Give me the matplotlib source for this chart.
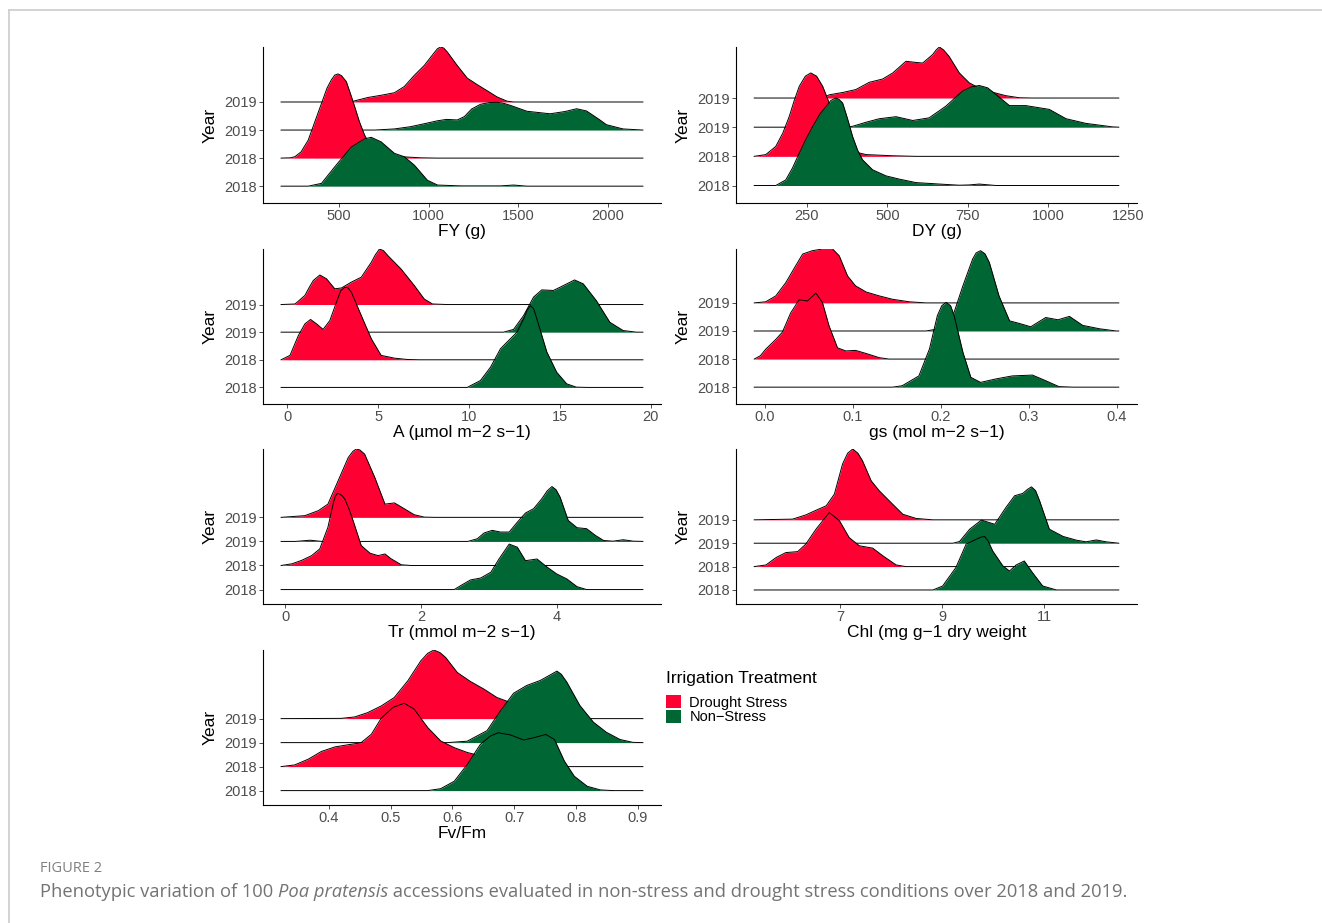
import matplotlib
matplotlib.use("Agg")
import matplotlib.pyplot as plt
from matplotlib.patches import Patch
from matplotlib.lines import Line2D

plt.rcParams['font.family'] = ['Liberation Sans', 'DejaVu Sans']

RED = '#FF0033'
GREEN = '#006633'

# rows from bottom: 1 = non-stress 2018, 2 = drought 2018, 3 = non-stress 2019, 4 = drought 2019
row_labels = ['2018', '2018', '2019', '2019']
treatments = ['Drought Stress', 'Non\u2212Stress']

# ridge heights (in row units), as (x, height) pairs
fy_ds19 = [(515, 0), (570, .01), (662, .16), (736, .24), (810, .33), (865, .55), (921, .95), (976, 1.3),
           (1031, 1.75), (1050, 1.9), (1068, 1.96), (1085, 1.92), (1105, 1.78), (1160, 1.3), (1216, .85),
           (1271, .62), (1327, .40), (1382, .18), (1437, .03), (1474, 0)]
fy_ns19 = [(700, 0), (810, .04), (900, .12), (994, .25), (1050, .33), (1100, .38), (1160, .36), (1200, .48),
           (1240, .75), (1290, .92), (1340, .98), (1382, .99), (1420, .95), (1456, .88), (1548, .67),
           (1677, .58), (1760, .66), (1825, .76), (1880, .68), (1950, .38), (1991, .19), (2083, .04), (2194, 0)]
fy_ds18 = [(179, 0), (230, .01), (256, .05), (290, .22), (330, .64), (370, 1.35), (404, 1.95), (435, 2.5),
           (459, 2.79), (478, 2.96), (496, 3.0), (515, 2.94), (542, 2.73), (565, 2.3), (589, 1.83),
           (615, 1.3), (644, .82), (670, .5), (699, .29), (755, .11), (847, .05), (958, .01), (1050, 0)]
fy_ns18 = [(330, 0), (404, .1), (478, .69), (570, 1.4), (644, 1.69), (681, 1.74), (736, 1.58), (810, 1.17),
           (865, 1.05), (921, .75), (994, .21), (1050, .04), (1179, .01), (1400, .01), (1474, .04), (1548, 0)]

dy_ds19 = [(300, 0), (319, .11), (361, .19), (402, .29), (444, .54), (485, .65), (517, .86), (558, 1.26),
           (590, 1.22), (610, 1.2), (641, 1.49), (652, 1.65), (662, 1.75), (675, 1.65), (692, 1.43),
           (724, .86), (755, .52), (786, .34), (827, .2), (869, .08), (910, .01), (950, 0)]
dy_ns19 = [(350, 0), (392, .03), (434, .17), (475, .29), (527, .36), (579, .23), (630, .32), (682, .72),
           (734, 1.24), (760, 1.38), (786, 1.43), (812, 1.35), (838, 1.12), (880, .74), (931, .74),
           (1004, .61), (1056, .29), (1118, .13), (1201, .01), (1220, 0)]
dy_ds18 = [(86, 0), (122, .06), (153, .34), (175, .8), (195, 1.37), (210, 1.9), (226, 2.4), (245, 2.75),
           (262, 2.86), (280, 2.75), (299, 2.4), (315, 1.95), (330, 1.49), (345, 1.0), (361, .57),
           (392, .17), (434, .06), (517, .02), (589, 0)]
dy_ns18 = [(153, 0), (184, .19), (205, .6), (226, 1.11), (247, 1.6), (268, 2.03), (290, 2.45), (309, 2.71),
           (325, 2.92), (340, 3.0), (350, 2.95), (361, 2.83), (376, 2.3), (392, 1.68), (408, 1.2),
           (423, .88), (454, .54), (496, .33), (537, .22), (589, .1), (662, .05), (724, .01), (755, .02),
           (786, .05), (838, 0)]

a_ds19 = [(-0.33, 0), (0.44, .02), (0.98, .33), (1.2, .6), (1.44, .87), (1.8, 1.07), (2.17, .93), (2.62, .57),
          (2.99, .6), (3.53, .81), (4.08, .99), (4.63, 1.53), (4.85, 1.8), (5.08, 2.01), (5.3, 1.95),
          (5.54, 1.77), (6.26, 1.29), (6.99, .69), (7.54, .2), (7.99, .02), (8.8, 0)]
a_ns19 = [(11.9, 0), (12.45, .1), (13.0, .6), (13.55, 1.27), (14.0, 1.53), (14.64, 1.51), (15.2, 1.69),
          (15.8, 1.89), (16.28, 1.75), (17.0, 1.14), (17.74, .36), (18.47, .06), (19.2, 0)]
a_ds18 = [(-0.33, 0), (0.16, .16), (0.62, .88), (0.98, 1.3), (1.29, 1.46), (1.62, 1.3), (1.98, 1.1),
          (2.35, 1.42), (2.71, 2.08), (2.95, 2.5), (3.17, 2.63), (3.35, 2.6), (3.53, 2.45), (4.08, 1.6),
          (4.63, .76), (5.17, .16), (5.9, .06), (6.63, .01), (7.3, 0)]
a_ns18 = [(9.9, 0), (10.63, .25), (11.18, .73), (11.73, 1.4), (12.18, 1.7), (12.64, 2.0), (13.0, 2.48),
          (13.2, 2.8), (13.37, 2.96), (13.55, 2.85), (13.73, 2.48), (14.28, 1.28), (14.82, .55),
          (15.37, .13), (15.9, .01), (16.5, 0)]

gs_ds19 = [(-0.012, 0), (0.001, .04), (0.0125, .25), (0.024, .73), (0.035, 1.32), (0.043, 1.74),
           (0.054, 1.86), (0.0655, 1.92), (0.077, 1.92), (0.0845, 1.68), (0.094, .96), (0.103, .61),
           (0.115, .39), (0.13, .25), (0.145, .13), (0.164, .04), (0.183, 0)]
gs_ns19 = [(0.183, 0), (0.198, .08), (0.213, .48), (0.225, 1.61), (0.236, 2.56), (0.24, 2.78),
           (0.245, 2.86), (0.25, 2.75), (0.255, 2.44), (0.266, 1.25), (0.278, .36), (0.289, .27),
           (0.302, .15), (0.319, .48), (0.333, .4), (0.346, .52), (0.361, .2), (0.38, .08), (0.399, 0)]
gs_ds18 = [(-0.012, 0), (-0.005, .12), (0.001, .35), (0.0125, .7), (0.02, .96), (0.0295, 1.65),
           (0.039, 2.11), (0.0485, 2.07), (0.058, 2.35), (0.0655, 2.01), (0.073, 1.18), (0.0826, .4),
           (0.092, .29), (0.103, .31), (0.115, .2), (0.13, .05), (0.141, 0)]
gs_ns18 = [(0.145, 0), (0.156, .05), (0.175, .4), (0.187, 1.36), (0.196, 2.55), (0.201, 2.9), (0.206, 3.02),
           (0.211, 2.9), (0.215, 2.55), (0.225, 1.24), (0.234, .35), (0.245, .17), (0.262, .29),
           (0.281, .4), (0.304, .43), (0.319, .23), (0.334, .02), (0.35, 0)]

tr_ds19 = [(-0.06, 0), (0.29, .07), (0.49, .28), (0.63, .55), (0.78, 1.52), (0.93, 2.49), (1.0, 2.75),
           (1.05, 2.84), (1.1, 2.8), (1.17, 2.63), (1.32, 1.66), (1.47, .55), (1.61, .6), (1.76, .35),
           (1.9, .11), (2.05, .01), (2.2, 0)]
tr_ns19 = [(0.15, 0), (0.37, .05), (0.54, 0), (2.69, 0), (2.83, .11), (2.93, .35), (3.05, .46), (3.17, .39),
           (3.3, .39), (3.42, .8), (3.54, 1.18), (3.66, 1.36), (3.78, 1.77), (3.86, 2.1), (3.93, 2.28),
           (3.99, 2.15), (4.05, 1.84), (4.17, .87), (4.3, .57), (4.44, .53), (4.57, .25), (4.69, .04),
           (4.83, .01), (4.98, .07), (5.13, .01), (5.27, 0)]
tr_ds18 = [(-0.06, 0), (0.1, .07), (0.24, .21), (0.39, .41), (0.51, .69), (0.63, 1.59), (0.67, 2.1),
           (0.71, 2.6), (0.74, 2.88), (0.77, 3.0), (0.8, 2.97), (0.84, 2.9), (0.88, 2.75), (0.94, 2.35),
           (1.0, 1.87), (1.12, .83), (1.25, .51), (1.37, .41), (1.47, .48), (1.56, .28), (1.71, .03), (1.85, 0)]
tr_ns18 = [(2.49, 0), (2.59, .17), (2.73, .4), (2.88, .48), (3.03, .72), (3.15, 1.27), (3.3, 1.89),
           (3.42, 1.76), (3.54, 1.2), (3.71, 1.27), (3.86, .93), (4.0, .65), (4.15, .44), (4.3, .12), (4.44, 0)]

chl_ds19 = [(5.32, 0), (6.07, .03), (6.33, .21), (6.53, .41), (6.73, .6), (6.89, 1.1), (7.05, 2.39),
            (7.15, 2.85), (7.25, 3.03), (7.35, 2.85), (7.44, 2.53), (7.61, 1.67), (7.77, 1.24), (8.03, .67),
            (8.23, .24), (8.49, .06), (8.82, 0)]
chl_ns19 = [(9.21, 0), (9.34, .07), (9.54, .6), (9.77, .99), (10.03, .81), (10.25, 1.53), (10.42, 2.03),
            (10.58, 2.13), (10.67, 2.3), (10.75, 2.41), (10.83, 2.25), (10.91, 1.81), (11.1, .6),
            (11.37, .29), (11.63, .13), (11.82, .06), (12.02, .14), (12.21, .06), (12.46, 0)]
chl_ds18 = [(5.32, 0), (5.55, .07), (5.75, .39), (5.94, .6), (6.17, .64), (6.33, .96), (6.53, 1.6),
            (6.79, 2.31), (6.99, 1.96), (7.18, 1.24), (7.38, .89), (7.64, .79), (7.84, .46), (8.1, .07),
            (8.29, 0)]
chl_ns18 = [(8.82, 0), (9.01, .17), (9.27, .96), (9.47, 1.96), (9.67, 2.17), (9.75, 2.25), (9.83, 2.29),
            (9.9, 2.1), (9.99, 1.67), (10.19, 1.03), (10.32, .81), (10.45, 1.07), (10.61, 1.24),
            (10.77, .74), (10.97, .17), (11.24, 0)]

fv_ds19 = [(0.323, 0), (0.42, .01), (0.442, .07), (0.463, .25), (0.485, .53), (0.506, .88), (0.528, 1.58),
           (0.549, 2.41), (0.56, 2.72), (0.57, 2.86), (0.58, 2.75), (0.589, 2.55), (0.608, 1.92),
           (0.629, 1.55), (0.651, 1.23), (0.672, .88), (0.694, .67), (0.715, .39), (0.736, .18),
           (0.758, .07), (0.785, 0)]
fv_ns19 = [(0.592, 0), (0.624, .06), (0.656, .5), (0.678, 1.34), (0.699, 2.06), (0.72, 2.38), (0.742, 2.59),
           (0.76, 2.85), (0.769, 2.98), (0.776, 2.85), (0.785, 2.52), (0.806, 1.55), (0.828, .85),
           (0.849, .43), (0.871, .13), (0.892, .01), (0.908, 0)]
fv_ds18 = [(0.323, 0), (0.345, .07), (0.367, .31), (0.388, .63), (0.41, .82), (0.431, .91), (0.452, .99),
           (0.469, 1.35), (0.485, 2.02), (0.504, 2.47), (0.522, 2.64), (0.538, 2.4), (0.56, 1.63),
           (0.581, 1.07), (0.603, .79), (0.624, .59), (0.645, .45), (0.667, .24), (0.694, .1), (0.72, 0)]
fv_ns18 = [(0.56, 0), (0.581, .08), (0.603, .39), (0.624, 1.09), (0.645, 1.92), (0.661, 2.27), (0.674, 2.41),
           (0.694, 2.32), (0.715, 2.11), (0.731, 2.2), (0.751, 2.34), (0.765, 2.13), (0.781, 1.23),
           (0.797, .6), (0.818, .18), (0.839, .03), (0.86, 0)]

# data range of each trait (ridges run over it)
fy_range = (179, 2194)
dy_range = (86, 1220)
a_range = (-0.33, 19.56)
gs_range = (-0.012, 0.402)
tr_range = (-0.06, 5.27)
chl_range = (5.32, 12.46)
fv_range = (0.323, 0.908)

fy_ticks = [500, 1000, 1500, 2000]
dy_ticks = [250, 500, 750, 1000, 1250]
a_ticks = [0, 5, 10, 15, 20]
gs_ticks = [0.0, 0.1, 0.2, 0.3, 0.4]
tr_ticks = [0, 2, 4]
chl_ticks = [7, 9, 11]
fv_ticks = [0.4, 0.5, 0.6, 0.7, 0.8, 0.9]

W, H = 1322, 923
fig = plt.figure(figsize=(W / 100, H / 100), dpi=100)


def add_ax(l, t, r, b):
    return fig.add_axes([l / W, 1 - b / H, (r - l) / W, (b - t) / H])


def ridges(ax, curves, rng, ticks, tick_fmt, xlabel):
    lo, hi = rng
    top = 0
    z = 2
    # top row first so lower rows overlap it
    for k, pts, col in zip([4, 3, 2, 1], curves, [RED, GREEN, RED, GREEN]):
        xs = [p[0] for p in pts]
        hs = [p[1] for p in pts]
        if xs[0] > lo:
            xs = [lo] + xs
            hs = [0] + hs
        if xs[-1] < hi:
            xs = xs + [hi]
            hs = hs + [0]
        ys = [k + h for h in hs]
        ax.fill_between(xs, k, ys, color=col, lw=0, zorder=z)
        ax.plot(xs, ys, color='black', lw=0.7, zorder=z + 1, solid_joinstyle='round')
        z += 2
        top = max(top, max(ys))
    pad = (hi - lo) * 0.05
    ax.set_xlim(lo - pad, hi + pad)
    ax.set_ylim(0.4, top)
    ax.set_xticks(ticks)
    ax.set_xticklabels([tick_fmt.format(t) for t in ticks])
    ax.set_yticks([1, 2, 3, 4])
    ax.set_yticklabels(row_labels)
    ax.spines['top'].set_visible(False)
    ax.spines['right'].set_visible(False)
    for s in ['left', 'bottom']:
        ax.spines[s].set_linewidth(0.8)
    ax.tick_params(length=3, width=0.6, color='#333333', labelcolor='#4D4D4D',
                   labelsize=10.5, pad=1.5)
    ax.set_xlabel(xlabel, fontsize=12.5, labelpad=0.5)
    ax.set_ylabel('Year', fontsize=12.5, labelpad=5)


rows = [(47, 203), (249, 404), (449, 604), (650, 805)]
left_col = (263, 661)
right_col = (736, 1137)

panels = [
    (left_col, rows[0], [fy_ds19, fy_ns19, fy_ds18, fy_ns18], fy_range, fy_ticks, '{:g}', 'FY (g)'),
    (right_col, rows[0], [dy_ds19, dy_ns19, dy_ds18, dy_ns18], dy_range, dy_ticks, '{:g}', 'DY (g)'),
    (left_col, rows[1], [a_ds19, a_ns19, a_ds18, a_ns18], a_range, a_ticks, '{:g}',
     'A (\u00b5mol m\u22122 s\u22121)'),
    (right_col, rows[1], [gs_ds19, gs_ns19, gs_ds18, gs_ns18], gs_range, gs_ticks, '{:.1f}',
     'gs (mol m\u22122 s\u22121)'),
    (left_col, rows[2], [tr_ds19, tr_ns19, tr_ds18, tr_ns18], tr_range, tr_ticks, '{:g}',
     'Tr (mmol m\u22122 s\u22121)'),
    (right_col, rows[2], [chl_ds19, chl_ns19, chl_ds18, chl_ns18], chl_range, chl_ticks, '{:g}',
     'Chl (mg g\u22121 dry weight'),
    (left_col, rows[3], [fv_ds19, fv_ns19, fv_ds18, fv_ns18], fv_range, fv_ticks, '{:.1f}', 'Fv/Fm'),
]

for col, row, curves, rng, ticks, fmt, lab in panels:
    ax = add_ax(col[0], row[0], col[1], row[1])
    ridges(ax, curves, rng, ticks, fmt, lab)

# legend: title drawn on its own for the wider gap above the keys
fig.text(666 / W, 1 - 678 / H, 'Irrigation Treatment', fontsize=12.5, va='center', ha='left')
handles = [Patch(facecolor=RED, edgecolor='none'), Patch(facecolor=GREEN, edgecolor='none')]
fig.legend(handles, treatments, loc='upper left',
           bbox_to_anchor=(666 / W, 1 - 695 / H), frameon=False, fontsize=10.5,
           handlelength=1.0, handleheight=1.0, handletextpad=0.6, labelspacing=0.0,
           borderpad=0, borderaxespad=0)

# page frame (top and left rules)
fig.add_artist(Line2D([9 / W, 1], [1 - 10 / H, 1 - 10 / H], color='#cccccc', lw=1.2))
fig.add_artist(Line2D([9 / W, 9 / W], [0, 1 - 10 / H], color='#cccccc', lw=1.2))

# caption
cap_font = ['Open Sans', 'DejaVu Sans']
fig.text(40 / W, 1 - 869 / H, 'FIGURE 2', fontsize=10.5, color='#808080', family=cap_font, va='center')
renderer = fig.canvas.get_renderer()
parts = [('Phenotypic variation of 100 ', 'normal'), ('Poa pratensis', 'italic'),
         (' accessions evaluated in non-stress and drought stress conditions over 2018 and 2019.', 'normal')]
x = 40 / W
for txt, style in parts:
    t = fig.text(x, 1 - 892 / H, txt, fontsize=13.2, color='#737373', family=cap_font,
                 style=style, va='center')
    bb = t.get_window_extent(renderer)
    x = bb.x1 / W

fig.savefig('out.png', dpi=100)
